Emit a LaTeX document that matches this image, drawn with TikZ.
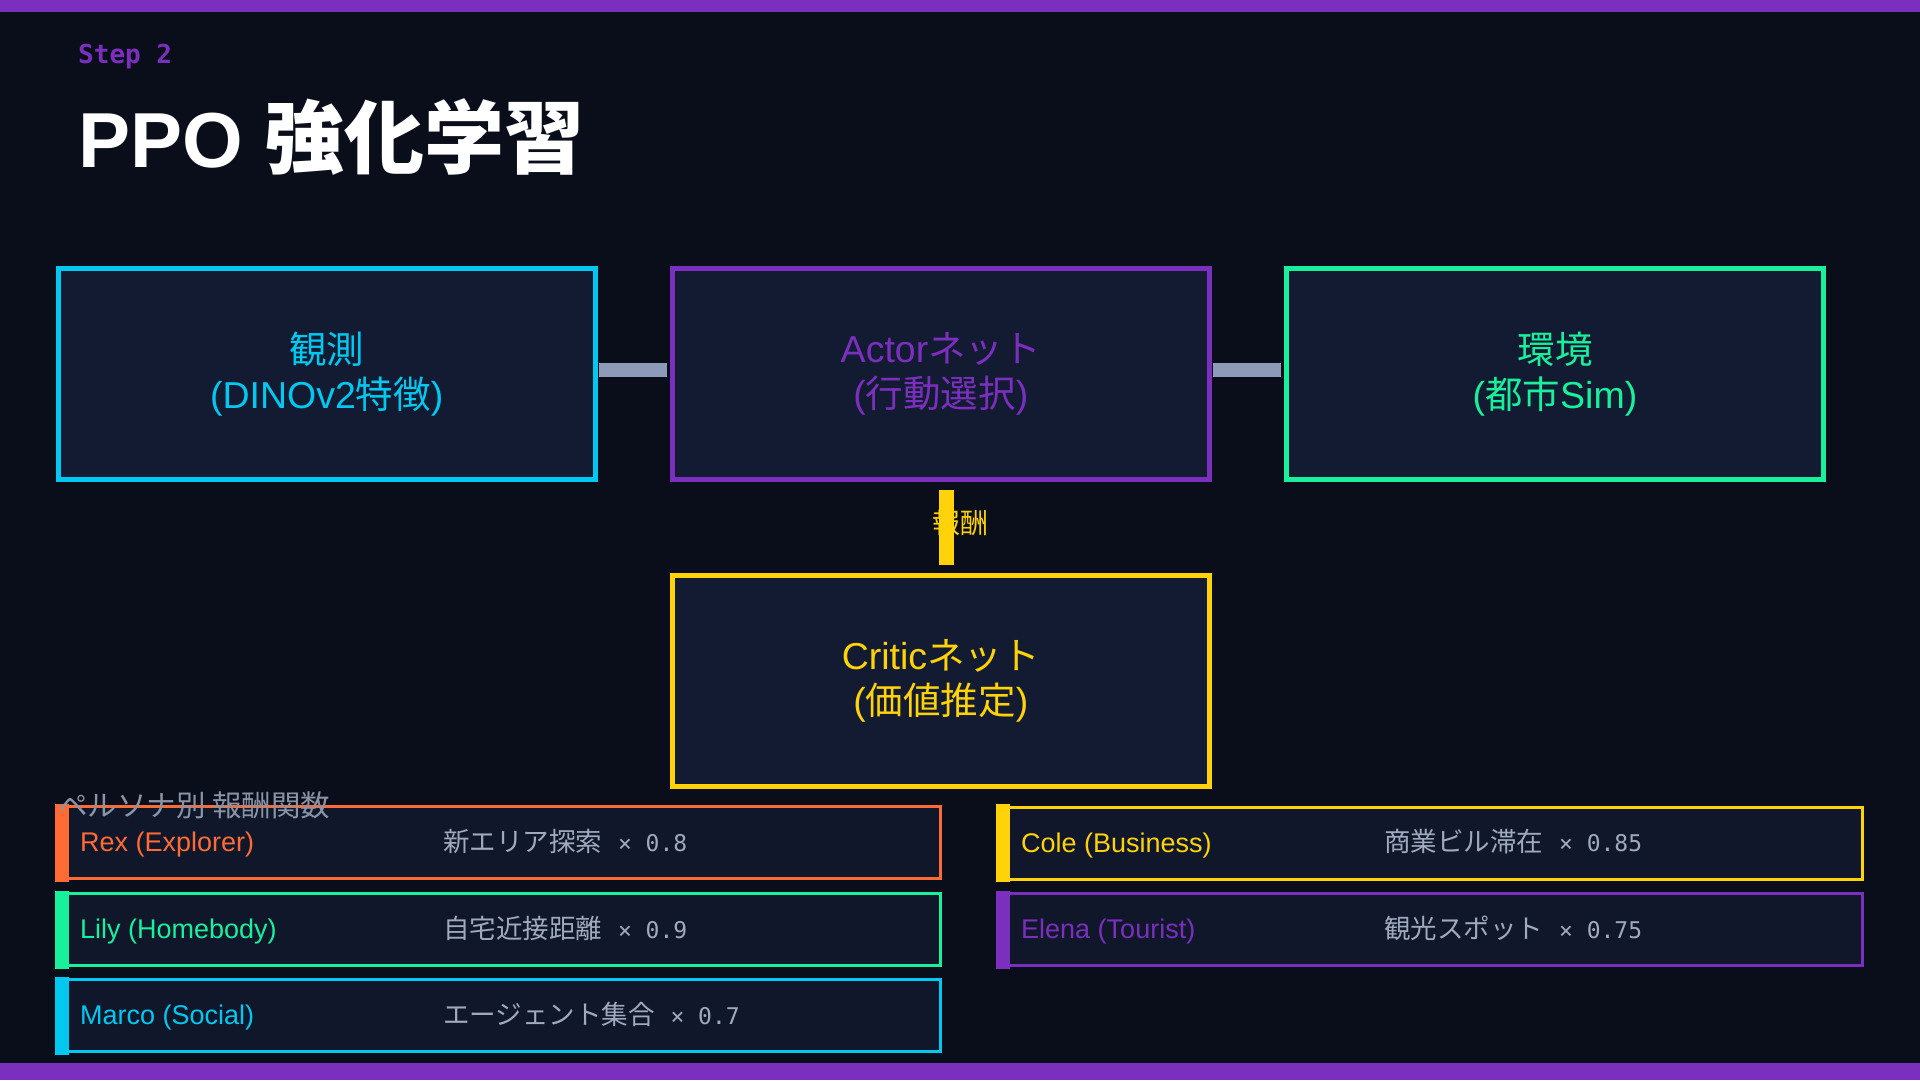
\documentclass[tikz,border=0pt]{standalone}
\usepackage{fontspec}
\setmainfont{Liberation Sans}
\newfontfamily\cjk{Noto Sans CJK JP}
\newfontfamily\mono{DejaVu Sans Mono}
\newcommand\setpx[2]{\fontsize{#1pt}{#2pt}\selectfont}
\newcommand\pdescr[2]{{\cjk\setpx{26.5}{30}#1}{\mono\setpx{23}{30}\hspace{2pt} × #2}}
\definecolor{bg}{HTML}{0A0E1A}
\definecolor{boxfill}{HTML}{121B31}
\definecolor{pfill}{HTML}{10172A}
\definecolor{cpurple}{HTML}{7B2FBE}
\definecolor{ccyan}{HTML}{00C8F0}
\definecolor{cgreen}{HTML}{18F09C}
\definecolor{cyellow}{HTML}{FFD20A}
\definecolor{corange}{HTML}{FF6B35}
\definecolor{cconn}{HTML}{8E9BB8}
\definecolor{cdesc}{HTML}{A0AABE}
\definecolor{clabel}{HTML}{8A94A8}
\begin{document}
\begin{tikzpicture}[x=1pt,y=-1pt,
  bigbox/.style={draw, line width=5pt, fill=boxfill, minimum width=537.5pt, minimum height=211pt, align=center, inner sep=0pt, font=\setpx{37.5}{45}},
  pbox/.style={draw, line width=3pt, fill=pfill, minimum height=72pt, inner sep=0pt},
  hbar/.style={cconn, line width=14pt},
  vbar/.style={cyellow, line width=15pt},
  pname/.style={anchor=west, inner sep=0pt, font=\setpx{27}{30}},
  pdesc/.style={anchor=west, inner sep=0pt, text=cdesc},
]
\useasboundingbox (0,0) rectangle (1920,1080);
\fill[bg] (0,0) rectangle (1920,1080);
\fill[cpurple] (0,0) rectangle (1920,12);
\fill[cpurple] (0,1063) rectangle (1920,1080);

\node[anchor=base west, inner sep=0pt, text=cpurple, font=\mono\bfseries\setpx{26}{30}] (step) at (78,63) {Step 2};
\node[anchor=base west, inner sep=0pt, text=white, font=\bfseries\setpx{78}{90}] (title) at (78,167) {PPO {\cjk\setpx{80}{90}強化学習}};

\node[bigbox, draw=ccyan, text=ccyan] (obs) at (326.75,374) {{\cjk 観測}\\(DINOv2{\cjk 特徴})};
\node[bigbox, draw=cpurple, text=cpurple] (actor) at (940.75,374) {Actor{\cjk ネット}\\({\cjk 行動選択})};
\node[bigbox, draw=cgreen, text=cgreen] (env) at (1555,374) {{\cjk 環境}\\({\cjk 都市}Sim)};
\node[bigbox, draw=cyellow, text=cyellow] (critic) at (940.75,681) {Critic{\cjk ネット}\\({\cjk 価値推定})};

\draw[hbar] ([xshift=1pt,yshift=4pt]obs.east) -- ([xshift=-2.5pt,yshift=4pt]actor.west);
\draw[hbar] ([xshift=1pt,yshift=4pt]actor.east) -- ([xshift=-2.5pt,yshift=4pt]env.west);
\node[text=cyellow, font={\cjk\setpx{28}{30}}, inner sep=0pt] (rw) at (960,523) {報酬};
\draw[vbar] ([xshift=5.5pt,yshift=-8pt]actor.south) -- ([xshift=5.5pt,yshift=8pt]critic.north);

\node[pbox, draw=corange, minimum width=883pt] (rex) at (499,842.5) {};
\node[pbox, draw=cgreen, minimum width=883pt] (lily) at (499,929.5) {};
\node[pbox, draw=ccyan, minimum width=883pt] (marco) at (499,1015.5) {};
\node[pbox, draw=cyellow, minimum width=864pt] (cole) at (1430.5,843) {};
\node[pbox, draw=cpurple, minimum width=864pt] (elena) at (1430.5,929.5) {};

\fill[corange] ([xshift=-1.5pt,yshift=1.5pt]rex.north west) rectangle ([xshift=12.5pt,yshift=-1.5pt]rex.south west);
\fill[cgreen] ([xshift=-1.5pt,yshift=1.5pt]lily.north west) rectangle ([xshift=12.5pt,yshift=-1.5pt]lily.south west);
\fill[ccyan] ([xshift=-1.5pt,yshift=1.5pt]marco.north west) rectangle ([xshift=12.5pt,yshift=-1.5pt]marco.south west);
\fill[cyellow] ([xshift=-1.5pt,yshift=1.5pt]cole.north west) rectangle ([xshift=12.5pt,yshift=-1.5pt]cole.south west);
\fill[cpurple] ([xshift=-1.5pt,yshift=1.5pt]elena.north west) rectangle ([xshift=12.5pt,yshift=-1.5pt]elena.south west);

\node[pname, text=corange] (rexn) at ([xshift=24pt,yshift=-2pt]rex.west) {Rex (Explorer)};
\node[pdesc] (rexd) at ([xshift=387pt,yshift=1pt]rex.west) {\pdescr{新エリア探索}{0.8}};
\node[pname, text=cgreen] (lilyn) at ([xshift=24pt,yshift=-2pt]lily.west) {Lily (Homebody)};
\node[pdesc] (lilyd) at ([xshift=387pt,yshift=1pt]lily.west) {\pdescr{自宅近接距離}{0.9}};
\node[pname, text=ccyan] (marcon) at ([xshift=24pt,yshift=-2pt]marco.west) {Marco (Social)};
\node[pdesc] (marcod) at ([xshift=387pt,yshift=1pt]marco.west) {\pdescr{エージェント集合}{0.7}};
\node[pname, text=cyellow] (colen) at ([xshift=24pt,yshift=-2pt]cole.west) {Cole (Business)};
\node[pdesc] (coled) at ([xshift=387pt,yshift=1pt]cole.west) {\pdescr{商業ビル滞在}{0.85}};
\node[pname, text=cpurple] (elenan) at ([xshift=24pt,yshift=-2pt]elena.west) {Elena (Tourist)};
\node[pdesc] (elenad) at ([xshift=387pt,yshift=1pt]elena.west) {\pdescr{観光スポット}{0.75}};

\node[anchor=west, inner sep=0pt, text=clabel, font={\cjk\setpx{29.5}{32}}] (plabel) at (58,805) {ペルソナ別 報酬関数};
\end{tikzpicture}
\end{document}
